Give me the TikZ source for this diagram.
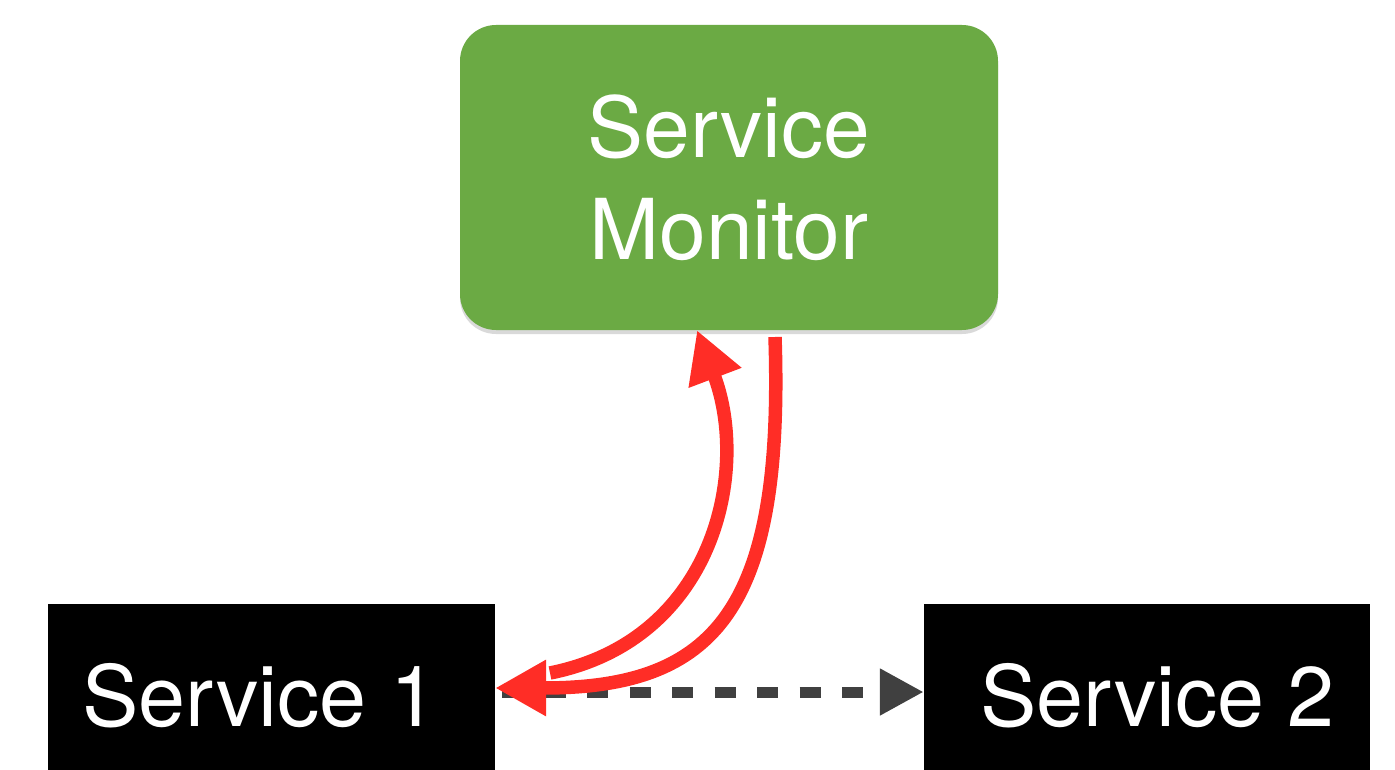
\documentclass[tikz,border=0pt]{standalone}
\usepackage{fontspec}
\setmainfont{TeX Gyre Heros}
\usetikzlibrary{arrows.meta,shadows}
\definecolor{grass}{RGB}{107,170,68}
\definecolor{redarrow}{RGB}{255,45,38}
\definecolor{darkline}{RGB}{64,64,64}
\tikzset{
  monitorbox/.style={fill=grass, rounded corners=36pt, minimum width=538pt, minimum height=305pt,
    inner sep=0pt, text=white, align=center, font=\fontsize{84}{102}\selectfont,
    drop shadow={shadow xshift=0pt, shadow yshift=-4pt, opacity=0.15, fill=black}},
  svcbox/.style={fill=black, minimum height=176pt, inner sep=0pt},
  svclabel/.style={text=white, font=\fontsize{84.5}{98}\selectfont, inner sep=0pt, anchor=base},
  redarr/.style={draw=redarrow, line width=13.5pt, -{Triangle[length=51pt,width=53pt]}},
  dasharr/.style={draw=darkline, line width=11pt, dash pattern=on 21pt off 21.5pt, dash phase=35.5pt,
    -{Triangle[length=44pt,width=44pt]}}
}
\begin{document}
\begin{tikzpicture}[x=1pt,y=-1pt]
\useasboundingbox (0,0) rectangle (1395,770);
\node[monitorbox] (mon) at (729,177.5) {Service\\Monitor};
\node[svcbox, minimum width=447pt] (s1) at (271.5,692) {};
\node[svcbox, minimum width=446pt] (s2) at (1147,692) {};
\node[svclabel] (s1t) at (260,726) {Service 1};
\node[svclabel] (s2t) at (1157.5,726) {Service 2};
\draw[dasharr] (s1.east) -- (s2.west);
\coordinate (a1s) at (550,673);
\coordinate (a2s) at (775,337);
\draw[redarr] (a1s) .. controls (715,640) and (750,470) .. ([xshift=-32pt]mon.south);
\draw[redarr] (a2s) .. controls (784,610) and (715,688) .. ([yshift=4pt]s1.east);
\end{tikzpicture}
\end{document}
